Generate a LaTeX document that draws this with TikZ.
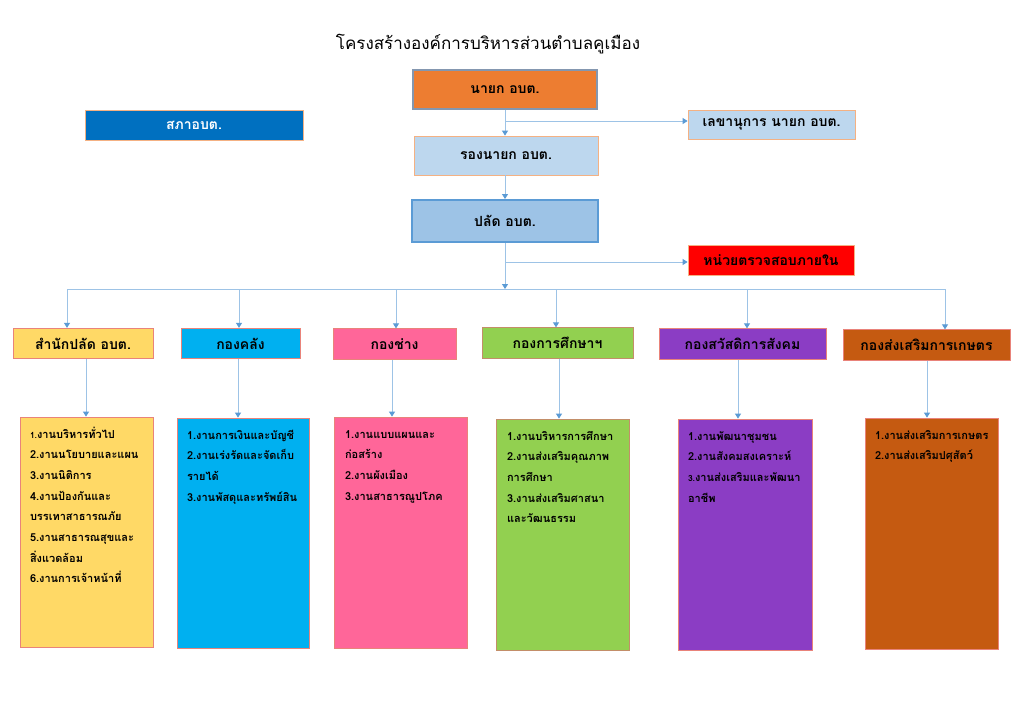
\documentclass[tikz,border=0pt]{standalone}
\usepackage{fontspec}
\setmainfont[Script=Thai]{Loma}
\usetikzlibrary{arrows.meta}
\definecolor{lineblue}{HTML}{9DC3E6}
\definecolor{tipblue}{HTML}{5B9BD5}
\definecolor{ornbrd}{HTML}{F4B183}
\definecolor{redbrd}{HTML}{E9837A}
\definecolor{cOrange}{HTML}{ED7D31}
\definecolor{cDark}{HTML}{0070C0}
\definecolor{cLight}{HTML}{BDD7EE}
\definecolor{cPalad}{HTML}{9DC3E6}
\definecolor{cYellow}{HTML}{FFD966}
\definecolor{cCyan}{HTML}{00B0F0}
\definecolor{cPink}{HTML}{FF6699}
\definecolor{cGreen}{HTML}{92D050}
\definecolor{cPurple}{HTML}{8B3DC4}
\definecolor{cBrown}{HTML}{C55A11}
\definecolor{greyblue}{HTML}{8497B0}
\newcommand\contentbox[3]{\parbox[c][#1][t]{#2}{\raggedright\fontsize{11}{20.7}\selectfont\bfseries\rule{0pt}{21pt}#3}}
\begin{document}
\begin{tikzpicture}[x=1pt,y=-1pt,
  boxbase/.style={rectangle, draw=ornbrd, line width=0.8pt, inner sep=0pt, font=\fontsize{14}{16}\selectfont\bfseries},
  hdr/.style={boxbase, draw=redbrd, minimum height=30.5pt},
  cnt/.style={rectangle, draw=redbrd, line width=0.8pt, inner sep=0pt},
  conn/.style={draw=lineblue, line width=0.9pt},
  arr/.style={conn, -{Triangle[width=6pt,length=5pt,color=tipblue]}}]
\useasboundingbox (0,0) rectangle (1024,724);
\fill[white] (0,0) rectangle (1024,724);
\node[font=\fontsize{17}{20}\selectfont] (title) at (488,44) {โครงสร้างองค์การบริหารส่วนตำบลคูเมือง};
% top level
\node[boxbase, draw=greyblue, line width=1.2pt, fill=cOrange, minimum width=184pt, minimum height=39pt] (nayok) at (505,89.5) {นายก อบต.};
\node[boxbase, fill=cDark, text=white, minimum width=218pt, minimum height=30pt] (sapha) at (194,125) {สภาอบต.};
\node[boxbase, fill=cLight, minimum width=167pt, minimum height=29pt] (lekha) at (771.5,124.5) {เลขานุการ นายก อบต.};
\node[boxbase, fill=cLight, minimum width=184pt, minimum height=39pt] (rong) at (506,155.5) {รองนายก อบต.};
\node[boxbase, draw=tipblue, line width=2pt, fill=cPalad, minimum width=186pt, minimum height=42pt] (palad) at (505,221) {ปลัด อบต.};
\node[boxbase, fill=red, minimum width=166pt, minimum height=30pt] (audit) at (771,260) {หน่วยตรวจสอบภายใน};
% headers
\node[hdr, fill=cYellow, minimum width=140pt] (h1) at (83,343.5) {สำนักปลัด อบต.};
\node[hdr, fill=cCyan, minimum width=119pt] (h2) at (240.5,343.5) {กองคลัง};
\node[hdr, fill=cPink, minimum width=123pt] (h3) at (394.5,344) {กองช่าง};
\node[hdr, draw=ornbrd!80!black, fill=cGreen, minimum width=151pt] (h4) at (557.5,343) {กองการศึกษาฯ};
\node[hdr, fill=cPurple, minimum width=167pt] (h5) at (742.5,344) {กองสวัสดิการสังคม};
\node[hdr, fill=cBrown, minimum width=167pt] (h6) at (926.5,345) {กองส่งเสริมการเกษตร};
% content
\node[cnt, fill=cYellow, minimum width=133pt, minimum height=230pt] (c1) at (86.5,532)
  {\contentbox{230pt}{113pt}{{\fontsize{8.5}{10}\selectfont 1.}งานบริหารทั่วไป\\2.งานนโยบายและแผน\\3.งานนิติการ\\4.งานป้องกันและ\\บรรเทาสาธารณภัย\\5.งานสาธารณสุขและ\\สิ่งแวดล้อม\\6.งานการเจ้าหน้าที่}};
\node[cnt, fill=cCyan, minimum width=132pt, minimum height=230pt] (c2) at (243,533)
  {\contentbox{230pt}{112pt}{1.งานการเงินและบัญชี\\2.งานเร่งรัดและจัดเก็บ\\รายได้\\3.งานพัสดุและทรัพย์สิน}};
\node[cnt, fill=cPink, minimum width=133pt, minimum height=231pt] (c3) at (400.5,532.5)
  {\contentbox{231pt}{111pt}{1.งานแบบแผนและ\\ก่อสร้าง\\2.งานผังเมือง\\3.งานสาธารณูปโภค}};
\node[cnt, draw=ornbrd!80!black, fill=cGreen, minimum width=133pt, minimum height=231pt] (c4) at (562.5,534.5)
  {\contentbox{231pt}{111pt}{1.งานบริหารการศึกษา\\2.งานส่งเสริมคุณภาพ\\การศึกษา\\3.งานส่งเสริมศาสนา\\และวัฒนธรรม}};
\node[cnt, fill=cPurple, minimum width=134pt, minimum height=231pt] (c5) at (745,534.5)
  {\contentbox{231pt}{114pt}{1.งานพัฒนาชุมชน\\2.งานสังคมสงเคราะห์\\{\fontsize{8.5}{10}\selectfont 3.}งานส่งเสริมและพัฒนา\\อาชีพ}};
\node[cnt, fill=cBrown, minimum width=133pt, minimum height=231pt] (c6) at (931.5,533.5)
  {\contentbox{231pt}{113pt}{1.งานส่งเสริมการเกษตร\\2.งานส่งเสริมปศุสัตว์}};
% connectors top
\coordinate (j1) at (505,121);
\coordinate (j2) at (505,262);
\draw[arr] (nayok.south) -- (nayok.south |- rong.north);
\draw[arr] (j1) -- (j1 -| lekha.west);
\draw[arr] (nayok.south |- rong.south) -- (nayok.south |- palad.north);
\coordinate (bL) at (67,289);
\coordinate (bR) at (945,289);
\coordinate (b2) at (239,289);
\coordinate (b3) at (396,289);
\coordinate (b4) at (556,289);
\coordinate (b5) at (747,289);
\draw[conn] (bL) -- (bR);
\draw[arr] (palad.south) -- (palad.south |- bL);
\draw[arr] (j2) -- (j2 -| audit.west);
\draw[arr] (bL) -- (bL |- h1.north);
\draw[arr] (b2) -- (b2 |- h2.north);
\draw[arr] (b3) -- (b3 |- h3.north);
\draw[arr] (b4) -- (b4 |- h4.north);
\draw[arr] (b5) -- (b5 |- h5.north);
\draw[arr] (bR) -- (bR |- h6.north);
% header to content
\draw[arr] ([xshift=3pt]h1.south) -- ([xshift=3pt]h1.south |- c1.north);
\draw[arr] ([xshift=-2.5pt]h2.south) -- ([xshift=-2.5pt]h2.south |- c2.north);
\draw[arr] ([xshift=-2.5pt]h3.south) -- ([xshift=-2.5pt]h3.south |- c3.north);
\draw[arr] ([xshift=1.5pt]h4.south) -- ([xshift=1.5pt]h4.south |- c4.north);
\draw[arr] ([xshift=-4.5pt]h5.south) -- ([xshift=-4.5pt]h5.south |- c5.north);
\draw[arr] ([xshift=0.5pt]h6.south) -- ([xshift=0.5pt]h6.south |- c6.north);
\end{tikzpicture}
\end{document}
